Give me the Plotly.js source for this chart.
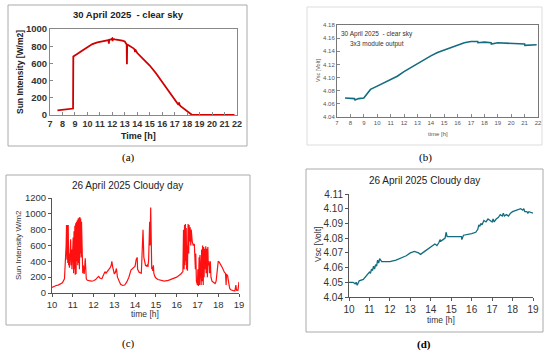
<!DOCTYPE html>
<html><head><meta charset="utf-8">
<script src="https://cdn.plot.ly/plotly-3.0.1.min.js"></script>
<style>html,body{margin:0;padding:0;background:#fff}#chart{width:550px;height:355px}</style>
</head><body><div id="chart"></div>
<script>
// (a) 30 April 2025 - clear sky, sun intensity
const a_time = [7.6,8.85,8.87,9.0,9.3,9.6,10.0,10.4,10.8,11.2,
  11.5,11.7,11.72,11.75,11.9,12.0,12.02,12.05,12.2,12.5,
  12.8,13.0,13.15,13.17,13.19,13.3,13.5,13.7,13.8,13.82,
  13.85,14.0,14.5,15.0,15.5,16.0,16.5,17.0,17.3,17.35,
  17.4,17.5,17.8,18.0,18.4,19.0,20.0,21.0,21.8];
const a_val = [55,75,680,690,720,750,790,825,845,860,
  865,870,830,875,880,890,860,885,880,875,
  865,855,820,590,820,810,795,775,760,730,
  760,720,650,575,485,380,275,170,120,145,
  115,100,65,40,0,0,0,0,0];
// (b) 30 April 2025 - clear sky, Vsc
const b_time = [7.6,8.0,8.3,8.35,8.6,9.0,9.1,9.3,9.5,10,
  10.5,11,11.5,12,12.5,13,13.5,14,14.5,15,
  15.5,16,16.5,17,17.5,17.52,18,18.5,18.52,19,
  20,21,21.02,21.9];
const b_val = [4.069,4.069,4.068,4.066,4.068,4.069,4.072,4.078,4.082,4.087,
  4.092,4.097,4.102,4.109,4.115,4.122,4.128,4.133,4.138,4.142,
  4.146,4.150,4.153,4.155,4.155,4.153,4.154,4.153,4.151,4.153,
  4.152,4.151,4.149,4.150];
// (c) 26 April 2025 cloudy day, sun intensity
const c_time = [10.0,10.1,10.2,10.3,10.4,10.5,10.6,10.65,10.68,10.7,
  10.72,10.74,10.76,10.78,10.8,10.82,10.84,10.86,10.88,10.9,
  10.92,10.94,10.96,10.98,11.0,11.02,11.04,11.06,11.08,11.1,
  11.12,11.14,11.16,11.18,11.2,11.22,11.24,11.26,11.28,11.3,
  11.32,11.34,11.36,11.38,11.4,11.42,11.44,11.46,11.48,11.5,
  11.55,11.6,11.62,11.65,11.7,11.8,11.9,12.0,12.1,12.2,
  12.25,12.3,12.4,12.5,12.55,12.6,12.7,12.8,12.85,12.88,
  12.92,12.95,13.0,13.05,13.1,13.15,13.2,13.3,13.4,13.5,
  13.6,13.7,13.8,13.9,14.0,14.05,14.1,14.12,14.15,14.2,
  14.3,14.35,14.38,14.42,14.45,14.5,14.55,14.6,14.62,14.65,
  14.7,14.72,14.75,14.78,14.8,14.82,14.85,14.88,14.9,14.95,
  15.0,15.1,15.2,15.4,15.6,15.8,16.0,16.2,16.3,16.33,
  16.36,16.38,16.4,16.42,16.44,16.46,16.48,16.5,16.52,16.55,
  16.58,16.6,16.62,16.65,16.68,16.7,16.72,16.75,16.8,16.85,
  16.9,16.92,16.95,16.97,17.0,17.02,17.05,17.08,17.1,17.12,
  17.15,17.18,17.2,17.22,17.25,17.28,17.3,17.32,17.35,17.38,
  17.4,17.42,17.45,17.48,17.5,17.52,17.55,17.58,17.6,17.62,
  17.65,17.7,17.75,17.8,17.85,17.9,17.95,18.0,18.05,18.1,
  18.2,18.3,18.35,18.38,18.4,18.42,18.45,18.5,18.55,18.6,
  18.7,18.8,18.85,18.88,18.9,18.95,19.0];
const c_val = [70,85,95,100,115,130,180,400,600,860,
  420,860,380,860,350,500,320,480,400,680,
  350,550,300,450,330,700,250,780,300,850,
  230,880,240,900,400,920,350,940,380,950,
  300,960,500,940,450,900,400,600,250,350,
  240,440,200,180,160,150,150,155,170,200,
  210,190,180,240,270,250,280,320,350,400,
  330,280,240,260,310,200,160,110,95,100,
  140,200,290,320,340,420,450,300,280,260,
  250,500,800,450,420,350,340,360,330,420,
  900,600,1080,400,300,330,280,350,250,210,
  190,170,160,150,160,180,200,240,270,800,
  300,860,350,870,400,820,300,600,280,870,
  500,860,650,830,600,800,700,650,600,620,
  300,500,150,120,100,300,90,450,100,480,
  120,100,550,150,600,100,580,200,560,300,
  590,250,560,200,580,350,400,250,300,400,
  200,150,140,130,120,150,250,400,390,370,
  320,260,250,100,240,230,220,100,60,40,
  30,25,100,30,40,30,140];
// (d) 26 April 2025 cloudy day, Vsc
const d_time = [10.0,10.2,10.3,10.35,10.4,10.5,10.7,10.9,11.0,11.05,
  11.1,11.15,11.2,11.25,11.3,11.35,11.4,11.45,11.5,11.6,
  11.8,12.0,12.3,12.5,12.8,13.0,13.2,13.4,13.5,13.7,
  14.0,14.2,14.3,14.4,14.45,14.5,14.6,14.7,14.75,14.78,
  14.8,14.9,15.0,15.3,15.5,15.52,15.6,16.0,16.2,16.3,
  16.35,16.4,16.45,16.5,16.6,16.7,16.8,16.9,17.0,17.05,
  17.1,17.2,17.3,17.4,17.5,17.55,17.6,17.7,17.8,17.9,
  18.0,18.2,18.4,18.5,18.55,18.6,18.7,18.75,18.8,19.0];
const d_val = [4.050,4.050,4.049,4.050,4.048,4.051,4.052,4.055,4.057,4.056,
  4.059,4.058,4.061,4.059,4.062,4.061,4.065,4.063,4.066,4.064,
  4.064,4.064,4.065,4.066,4.068,4.070,4.071,4.070,4.069,4.071,
  4.074,4.076,4.075,4.077,4.079,4.078,4.079,4.080,4.084,4.082,
  4.081,4.081,4.081,4.081,4.081,4.079,4.082,4.083,4.084,4.086,
  4.089,4.088,4.090,4.089,4.092,4.091,4.093,4.092,4.091,4.093,
  4.091,4.093,4.094,4.096,4.095,4.097,4.095,4.096,4.095,4.097,
  4.098,4.099,4.100,4.099,4.100,4.098,4.098,4.097,4.098,4.097];

const W = 550, H = 355;
const px = v => v / W, py = v => 1 - v / H;
const F = "Liberation Sans, Arial, sans-serif";

const traces = [
  {x: a_time, y: a_val, xaxis: 'x', yaxis: 'y', mode: 'lines', line: {color: '#d00000', width: 1.8}},
  {x: b_time, y: b_val, xaxis: 'x2', yaxis: 'y2', mode: 'lines', line: {color: '#146c80', width: 1.6}},
  {x: c_time, y: c_val, xaxis: 'x3', yaxis: 'y3', mode: 'lines', line: {color: '#ff1010', width: 1.2}},
  {x: d_time, y: d_val, xaxis: 'x4', yaxis: 'y4', mode: 'lines', line: {color: '#146c80', width: 1.3}}
];

function ax(domain, range, dtick, opts) {
  return Object.assign({domain: domain, range: range, dtick: dtick, tick0: range[0], showgrid: false, zeroline: false,
    showline: true, linecolor: '#888', linewidth: 1, ticks: 'inside', ticklen: 3, tickcolor: '#888', tickangle: 0,
    tickfont: {family: F, size: 9, color: '#333'}, fixedrange: true}, opts || {});
}

const layout = {
  width: W, height: H, margin: {l: 0, r: 0, t: 0, b: 0}, paper_bgcolor: '#fff', plot_bgcolor: '#fff',
  showlegend: false,
  xaxis: ax([px(50), px(237)], [7, 22], 1, {anchor: 'y', mirror: true, tickfont: {family: F, size: 9, color: '#333', weight: 'bold'}}),
  yaxis: ax([py(115), py(29)], [0, 1000], 200, {anchor: 'x', mirror: true, tickfont: {family: F, size: 9.5, color: '#333', weight: 'bold'}}),
  xaxis2: ax([px(337), px(538)], [7, 22], 1, {anchor: 'y2', mirror: true, linecolor: '#777', tickfont: {family: F, size: 6, color: '#555'}}),
  yaxis2: ax([py(117), py(25)], [4.04, 4.18], 0.02, {anchor: 'x2', mirror: true, linecolor: '#777', tickformat: '.2f', tickfont: {family: F, size: 6, color: '#555'}}),
  xaxis3: ax([px(52), px(239)], [10, 19], 1, {anchor: 'y3', ticks: 'outside', linecolor: '#555', tickcolor: '#555', tickfont: {family: F, size: 9.5, color: '#333'}}),
  yaxis3: ax([py(293), py(198)], [0, 1200], 200, {anchor: 'x3', ticks: 'outside', linecolor: '#555', tickcolor: '#555', tickfont: {family: F, size: 9.5, color: '#333'}}),
  xaxis4: ax([px(349), px(533)], [10, 19], 1, {anchor: 'y4', ticks: 'outside', linecolor: '#555', tickcolor: '#555', tickfont: {family: F, size: 10, color: '#333'}}),
  yaxis4: ax([py(297), py(194)], [4.04, 4.11], 0.01, {anchor: 'x4', ticks: 'outside', linecolor: '#555', tickcolor: '#555', tickformat: '.2f', tickfont: {family: F, size: 10, color: '#333'}}),
  shapes: [
    [8, 5, 247, 146, '#aaa'], [307, 7, 542, 145, '#ddd'], [6, 175, 250, 325, '#aaa'], [306, 169, 543, 332, '#aaa']
  ].map(b => ({type: 'rect', xref: 'paper', yref: 'paper', x0: px(b[0]), x1: px(b[2]), y0: py(b[3]), y1: py(b[1]),
    line: {color: b[4], width: 1}, fillcolor: 'rgba(0,0,0,0)', layer: 'below'})),
  annotations: [
    {text: '30 April 2025  - clear sky', x: px(128), y: py(15), font: {family: F, size: 9.5, color: '#222', weight: 'bold'}},
    {text: 'Sun Intensity [W/m2]', x: px(20), y: py(72), textangle: -90, font: {family: F, size: 8.5, color: '#222', weight: 'bold'}},
    {text: 'Time [h]', x: px(138), y: py(136), font: {family: F, size: 9, color: '#222', weight: 'bold'}},
    {text: '(a)', x: px(128), y: py(157), font: {family: 'Liberation Serif, serif', size: 11, color: '#000'}},
    {text: '30 April 2025  - clear sky', x: px(377), y: py(34), font: {family: F, size: 6.5, color: '#333'}},
    {text: '3x3 module output', x: px(377), y: py(44), font: {family: F, size: 6.5, color: '#333'}},
    {text: 'Vsc [Volt]', x: px(318), y: py(71), textangle: -90, font: {family: F, size: 5.5, color: '#555'}},
    {text: 'time [h]', x: px(438), y: py(134), font: {family: F, size: 6, color: '#555'}},
    {text: '(b)', x: px(425), y: py(157), font: {family: 'Liberation Serif, serif', size: 11, color: '#000'}},
    {text: '26 April 2025 Cloudy day', x: px(127), y: py(185), font: {family: F, size: 10, color: '#222'}},
    {text: 'Sun Intensity W/m2', x: px(18), y: py(245), textangle: -90, font: {family: F, size: 8, color: '#333'}},
    {text: 'time [h]', x: px(145), y: py(314), font: {family: F, size: 8.5, color: '#333'}},
    {text: '(c)', x: px(128), y: py(343), font: {family: 'Liberation Serif, serif', size: 11, color: '#000'}},
    {text: '26 April 2025 Cloudy day', x: px(424), y: py(180), font: {family: F, size: 10, color: '#222'}},
    {text: 'Vsc [Volt]', x: px(318), y: py(245), textangle: -90, font: {family: F, size: 8.5, color: '#333'}},
    {text: 'time [h]', x: px(441), y: py(320), font: {family: F, size: 8.5, color: '#333'}},
    {text: '(d)', x: px(424), y: py(344), font: {family: 'Liberation Serif, serif', size: 11, color: '#000', weight: 'bold'}}
  ].map(a => Object.assign({xref: 'paper', yref: 'paper', showarrow: false, xanchor: 'center', yanchor: 'middle'}, a))
};

Plotly.newPlot('chart', traces, layout, {staticPlot: true, displayModeBar: false});
</script></body></html>
